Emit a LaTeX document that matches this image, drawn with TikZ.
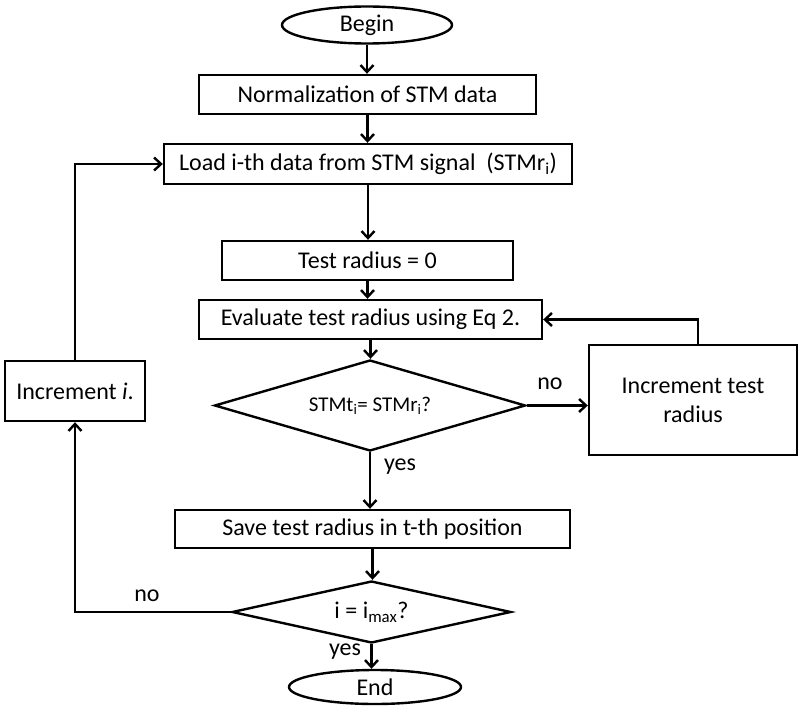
\documentclass[tikz,border=0pt]{standalone}
\usepackage{fontspec}
\setmainfont{Carlito}
\usetikzlibrary{shapes.geometric,arrows.meta}

\begin{document}
\begin{tikzpicture}[x=1pt, y=-1pt,
	block/.style={draw, line width=2.4pt, rectangle, inner sep=0pt},
	terminal/.style={draw, line width=2.4pt, ellipse, inner sep=0pt},
	decision/.style={draw, line width=2.4pt, diamond, inner sep=0pt},
	flow/.style={line width=2.4pt, -{Straight Barb[length=7pt,width=13pt]}}]

\def\width{800}
\def\height{706}

\fontsize{24}{29}\selectfont
\path [use as bounding box] (0,0) rectangle (\width,\height);

% TERMINALS
\node [terminal, minimum width=170pt, minimum height=37pt] (begin) at (367,25) {Begin};
\node [terminal, minimum width=172pt, minimum height=34pt] (end) at (375,687) {End};

% MAIN COLUMN
\node [block, minimum width=337pt, minimum height=39pt] (norm) at (367.5,94.5) {Normalization of STM data};
\node [block, minimum width=408pt, minimum height=40pt] (load) at (368,164) {Load i-th data from STM signal\ \ (STMr\textsubscript{i})};
\node [block, minimum width=291pt, minimum height=39pt] (zero) at (367.5,260.5) {Test radius = 0};
\node [block, minimum width=343pt, minimum height=39pt] (eval) at (370.5,319.5) {Evaluate test radius using Eq 2.};
\node [decision, aspect=3.4, minimum width=311pt, minimum height=91pt] (same) at (370,405.5)
	{\fontsize{21}{25}\selectfont STMt\textsubscript{i}= STMr\textsubscript{i}?};
\node [block, minimum width=395pt, minimum height=38pt] (save) at (372.5,529) {Save test radius in t-th position};
\node [decision, aspect=4.5, minimum width=279pt, minimum height=62pt] (last) at (371.5,612) {i = i\textsubscript{max}?};

% SIDE BOXES
\node [block, minimum width=208pt, minimum height=110pt, align=center] (incr) at (693,400) {Increment test\\radius};
\node [block, minimum width=140pt, minimum height=60pt] (inci) at (75,391) {Increment \textit{i}.};

% DOWN ARROWS
\draw [flow] (begin.south) -- (begin.south |- norm.north);
\draw [flow] (norm.south) -- (norm.south |- load.north);
\draw [flow] (load.south) -- (load.south |- zero.north);
\draw [flow] (zero.south) -- (zero.south |- eval.north);
\draw [flow] (eval.south) -- (eval.south |- same.north);
\draw [flow] (same.south) -- (same.south |- save.north);
\draw [flow] (save.south) -- (save.south |- last.north);
\draw [flow] (last.south) -- (last.south |- end.north);

% LOOPS
\draw [flow] (same.east) -- (same.east -| incr.west);
\draw [flow] (incr.north -| 698,0) |- (eval.east);
\draw [flow] (last.west) -| (inci.south);
\draw [flow] (inci.north) |- (load.west);

% ANSWERS
\node (nofit) at (550,384) {no};
\node (yesfit) at (400,467) {yes};
\node (nolast) at (147,596) {no};
\node (yeslast) at (345,652) {yes};

\end{tikzpicture}
\end{document}
